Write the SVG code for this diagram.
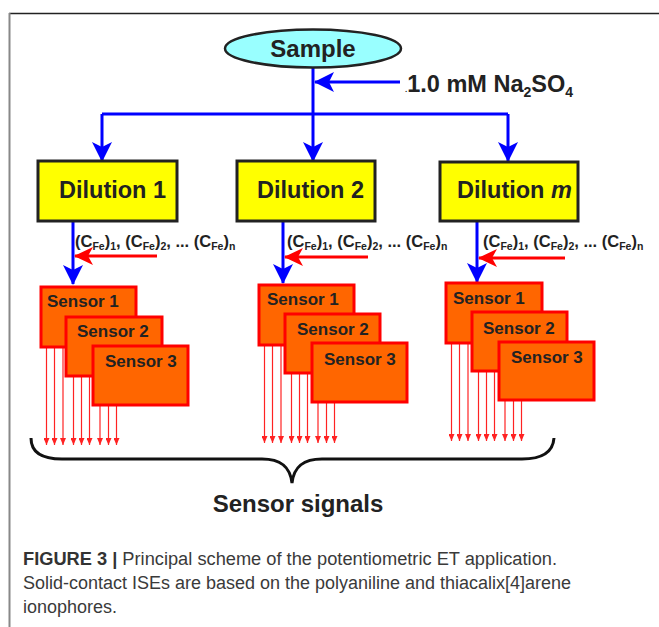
<svg xmlns="http://www.w3.org/2000/svg" width="659" height="627" viewBox="0 0 659 627">
<style>
  .b{font-family:"Liberation Sans",Arial,sans-serif;font-weight:bold;fill:#222}
  .dil{fill:#ffff00;stroke:#222;stroke-width:3}
  .sen{fill:#ff6600;stroke:#ff0000;stroke-width:3}
  .blue{stroke:#0000ff;stroke-width:3;fill:none}
  .red{stroke:#ff0000;stroke-width:3;fill:none}
  .sig{stroke:#ff2222;stroke-width:1.2;fill:none}
  .cap{font-family:"Liberation Sans",Arial,sans-serif;font-size:18px;fill:#3a3a3a}
</style>
<defs>
  <marker id="ab" markerUnits="userSpaceOnUse" markerWidth="20" markerHeight="20" refX="19" refY="10" orient="auto">
    <path d="M0,0 L20,10 L0,20 L5,10 Z" fill="#0000ff"/>
  </marker>
  <marker id="ar" markerUnits="userSpaceOnUse" markerWidth="19" markerHeight="18" refX="18" refY="9" orient="auto">
    <path d="M0,0 L19,9 L0,18 L5,9 Z" fill="#ff0000"/>
  </marker>
  <marker id="as" markerUnits="userSpaceOnUse" markerWidth="7" markerHeight="6" refX="7" refY="3" orient="auto">
    <path d="M0,0 L7,3 L0,6 Z" fill="#ff2222"/>
  </marker>
</defs>
<rect width="659" height="627" fill="#ffffff"/>
<line x1="9" y1="13.5" x2="659" y2="13.5" stroke="#222" stroke-width="1.5"/>
<line x1="9.5" y1="13" x2="9.5" y2="627" stroke="#888" stroke-width="2"/>

<g id="connectors">
  <path class="blue" d="M313,68 V161" marker-end="url(#ab)"/>
  <path class="blue" d="M102,114 H508"/>
  <path class="blue" d="M102,114 V161" marker-end="url(#ab)"/>
  <path class="blue" d="M508,114 V161" marker-end="url(#ab)"/>
  <path class="blue" d="M400,82 H315" marker-end="url(#ab)"/>
  <path class="blue" d="M73,221 V284" marker-end="url(#ab)"/>
  <path class="blue" d="M283,221 V283" marker-end="url(#ab)"/>
  <path class="blue" d="M477,221 V282" marker-end="url(#ab)"/>
  <path class="red" d="M157,256 H75" marker-end="url(#ar)"/>
  <path class="red" d="M368,257 H285" marker-end="url(#ar)"/>
  <path class="red" d="M565,258 H479" marker-end="url(#ar)"/>
</g>

<g id="sample">
  <ellipse cx="313" cy="48.5" rx="88" ry="19" fill="#99ffff" stroke="#222" stroke-width="2.5"/>
  <text class="b" x="313" y="57" font-size="24" text-anchor="middle">Sample</text>
</g>

<g id="na2so4">
  <text class="b" x="405" y="92" font-size="23.5"><tspan font-size="8">.</tspan>1.0 mM Na<tspan font-size="14" dy="5">2</tspan><tspan dy="-5">SO</tspan><tspan font-size="14" dy="5">4</tspan></text>
</g>

<g id="dilution1">
  <rect class="dil" x="38" y="161" width="139" height="60"/>
  <text class="b" x="59" y="198" font-size="23.5">Dilution 1</text>
</g>
<g id="dilution2">
  <rect class="dil" x="237" y="161" width="138" height="60"/>
  <text class="b" x="257" y="198" font-size="23.5">Dilution 2</text>
</g>
<g id="dilutionm">
  <rect class="dil" x="440" y="162" width="138" height="59"/>
  <text class="b" x="457" y="198" font-size="23.5">Dilution <tspan font-style="italic">m</tspan></text>
</g>

<g id="conc1">
  <text class="b" x="75" y="247" font-size="16.5">(C<tspan font-size="10.5" dy="3">Fe</tspan><tspan dy="-3">)</tspan><tspan font-size="10.5" dy="3">1</tspan><tspan dy="-3">, (C</tspan><tspan font-size="10.5" dy="3">Fe</tspan><tspan dy="-3">)</tspan><tspan font-size="10.5" dy="3">2</tspan><tspan dy="-3">, ... (C</tspan><tspan font-size="10.5" dy="3">Fe</tspan><tspan dy="-3">)</tspan><tspan font-size="10.5" dy="3">n</tspan></text>
</g>
<g id="conc2">
  <text class="b" x="287" y="247" font-size="16.5">(C<tspan font-size="10.5" dy="3">Fe</tspan><tspan dy="-3">)</tspan><tspan font-size="10.5" dy="3">1</tspan><tspan dy="-3">, (C</tspan><tspan font-size="10.5" dy="3">Fe</tspan><tspan dy="-3">)</tspan><tspan font-size="10.5" dy="3">2</tspan><tspan dy="-3">, ... (C</tspan><tspan font-size="10.5" dy="3">Fe</tspan><tspan dy="-3">)</tspan><tspan font-size="10.5" dy="3">n</tspan></text>
</g>
<g id="concm">
  <text class="b" x="483" y="247" font-size="16.5">(C<tspan font-size="10.5" dy="3">Fe</tspan><tspan dy="-3">)</tspan><tspan font-size="10.5" dy="3">1</tspan><tspan dy="-3">, (C</tspan><tspan font-size="10.5" dy="3">Fe</tspan><tspan dy="-3">)</tspan><tspan font-size="10.5" dy="3">2</tspan><tspan dy="-3">, ... (C</tspan><tspan font-size="10.5" dy="3">Fe</tspan><tspan dy="-3">)</tspan><tspan font-size="10.5" dy="3">n</tspan></text>
</g>

<g id="sensors1" transform="translate(41,287)">
  <g class="sig">
    <path d="M5.5,60 V158" marker-end="url(#as)"/><path d="M13.5,60 V158" marker-end="url(#as)"/><path d="M22,60 V158" marker-end="url(#as)"/>
    <path d="M32.5,89 V158" marker-end="url(#as)"/><path d="M40.5,89 V158" marker-end="url(#as)"/><path d="M48.5,89 V158" marker-end="url(#as)"/>
    <path d="M59,118 V158" marker-end="url(#as)"/><path d="M67.5,118 V158" marker-end="url(#as)"/><path d="M75.5,118 V158" marker-end="url(#as)"/>
  </g>
  <rect class="sen" x="0" y="0" width="95" height="60"/>
  <text class="b" x="6" y="20" font-size="17">Sensor 1</text>
  <rect class="sen" x="25" y="30" width="96" height="59"/>
  <text class="b" x="36" y="50" font-size="17">Sensor 2</text>
  <rect class="sen" x="52" y="59" width="95" height="59"/>
  <text class="b" x="64" y="80" font-size="17">Sensor 3</text>
</g>
<g id="sensors2" transform="translate(259,285)">
  <g class="sig">
    <path d="M5.5,60 V158" marker-end="url(#as)"/><path d="M13.5,60 V158" marker-end="url(#as)"/><path d="M22,60 V158" marker-end="url(#as)"/>
    <path d="M32.5,89 V158" marker-end="url(#as)"/><path d="M40.5,89 V158" marker-end="url(#as)"/><path d="M48.5,89 V158" marker-end="url(#as)"/>
    <path d="M59,118 V158" marker-end="url(#as)"/><path d="M67.5,118 V158" marker-end="url(#as)"/><path d="M75.5,118 V158" marker-end="url(#as)"/>
  </g>
  <rect class="sen" x="0" y="0" width="95" height="60"/>
  <text class="b" x="8" y="20" font-size="17">Sensor 1</text>
  <rect class="sen" x="26" y="29" width="95" height="59"/>
  <text class="b" x="38" y="50" font-size="17">Sensor 2</text>
  <rect class="sen" x="53" y="58" width="95" height="59"/>
  <text class="b" x="65" y="80" font-size="17">Sensor 3</text>
</g>
<g id="sensors3" transform="translate(446,283)">
  <g class="sig">
    <path d="M5.5,60 V158" marker-end="url(#as)"/><path d="M13.5,60 V158" marker-end="url(#as)"/><path d="M22,60 V158" marker-end="url(#as)"/>
    <path d="M32.5,89 V158" marker-end="url(#as)"/><path d="M40.5,89 V158" marker-end="url(#as)"/><path d="M48.5,89 V158" marker-end="url(#as)"/>
    <path d="M59,118 V158" marker-end="url(#as)"/><path d="M67.5,118 V158" marker-end="url(#as)"/><path d="M75.5,118 V158" marker-end="url(#as)"/>
  </g>
  <rect class="sen" x="0" y="0" width="96" height="60"/>
  <text class="b" x="7" y="21" font-size="17">Sensor 1</text>
  <rect class="sen" x="26" y="29" width="95" height="59"/>
  <text class="b" x="37" y="51" font-size="17">Sensor 2</text>
  <rect class="sen" x="53" y="59" width="95" height="58"/>
  <text class="b" x="65" y="80" font-size="17">Sensor 3</text>
</g>

<g id="brace">
  <path d="M31,438 C31,452 42,459 62,459 L262,459 C280,459 290,466 292,483 C294,466 304,459 322,459 L522,459 C542,459 553,452 554,438" fill="none" stroke="#111" stroke-width="3"/>
  <text class="b" x="298" y="512" font-size="24" text-anchor="middle">Sensor signals</text>
</g>

<g id="caption">
  <text class="cap" x="23" y="565" textLength="534" lengthAdjust="spacingAndGlyphs"><tspan font-weight="bold" fill="#333">FIGURE 3 |</tspan> Principal scheme of the potentiometric ET application.</text>
  <text class="cap" x="23" y="589" textLength="548" lengthAdjust="spacingAndGlyphs">Solid-contact ISEs are based on the polyaniline and thiacalix[4]arene</text>
  <text class="cap" x="23" y="613">ionophores.</text>
</g>
</svg>
